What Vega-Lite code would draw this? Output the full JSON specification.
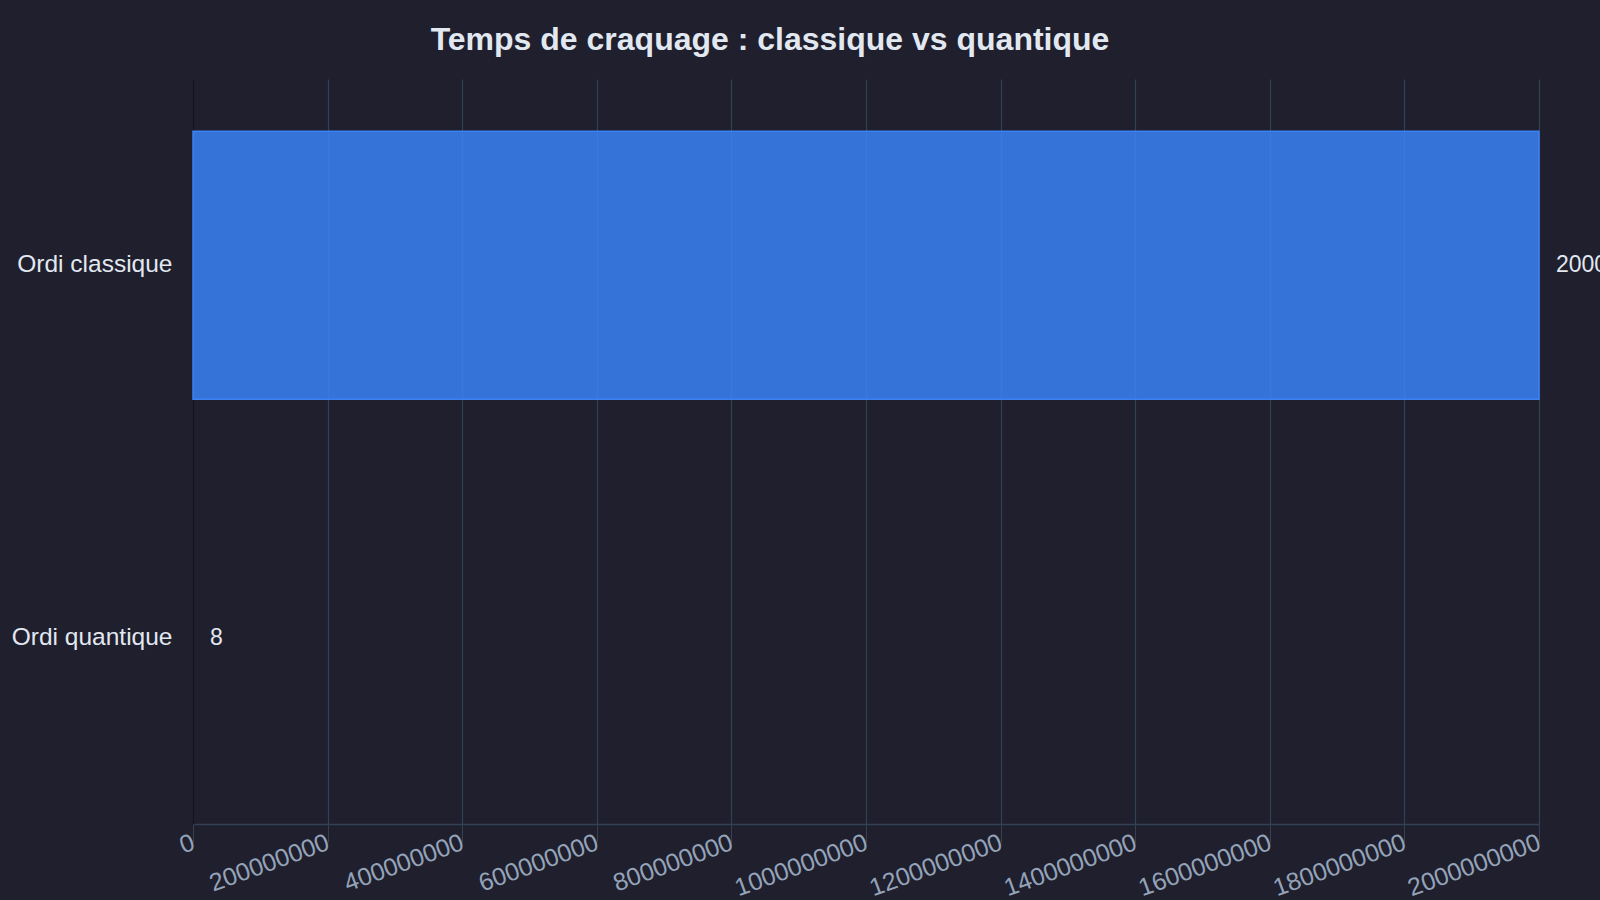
{
  "$schema": "https://vega.github.io/schema/vega-lite/v6.json",
  "autosize": {"type": "none"},
  "width": 1346,
  "height": 745,
  "padding": {"left": 193, "top": 79, "right": 61, "bottom": 76},
  "background": "#1f1f2e",
  "title": {
    "text": "Temps de craquage : classique vs quantique",
    "font": "Liberation Sans",
    "fontSize": 32,
    "fontWeight": "bold",
    "color": "#e2e8f0",
    "anchor": "middle",
    "dx": -96,
    "offset": 22
  },
  "config": {
    "view": {"stroke": null},
    "font": "Liberation Sans"
  },
  "data": {
    "values": [
      {"machine": "Ordi classique", "temps": 2000000000},
      {"machine": "Ordi quantique", "temps": 8}
    ]
  },
  "encoding": {
    "y": {
      "field": "machine",
      "type": "nominal",
      "title": null,
      "sort": null,
      "scale": {"paddingInner": 0.28, "paddingOuter": 0.14},
      "axis": {
        "ticks": false,
        "grid": false,
        "labelFontSize": 24.5,
        "labelColor": "#e2e8f0",
        "labelPadding": 21,
        "domainColor": "#15151f",
        "domainWidth": 1.5
      }
    },
    "x": {
      "field": "temps",
      "type": "quantitative",
      "title": null,
      "scale": {"domain": [0, 2000000000], "nice": false},
      "axis": {
        "values": [0, 200000000, 400000000, 600000000, 800000000, 1000000000, 1200000000, 1400000000, 1600000000, 1800000000, 2000000000],
        "format": "d",
        "labelAngle": -20,
        "labelAlign": "right",
        "labelBaseline": "middle",
        "labelOverlap": false,
        "labelFontSize": 25,
        "labelColor": "#94a3b8",
        "labelPadding": -1,
        "tickSize": 18,
        "tickColor": "#334155",
        "gridColor": "#334155",
        "gridWidth": 1.2,
        "domainColor": "#334155",
        "domainWidth": 1.5
      }
    }
  },
  "layer": [
    {
      "mark": {"type": "bar", "color": "#3b82f6", "fillOpacity": 0.85, "stroke": "#3b82f6", "strokeWidth": 1.5},
      "encoding": {
        "strokeOpacity": {"condition": {"test": "datum.temps < 1000", "value": 0}, "value": 1}
      }
    },
    {
      "mark": {"type": "text", "align": "left", "baseline": "middle", "dx": 17, "fontSize": 23, "color": "#e2e8f0"},
      "encoding": {"text": {"field": "temps", "type": "quantitative", "format": "d"}}
    }
  ]
}
